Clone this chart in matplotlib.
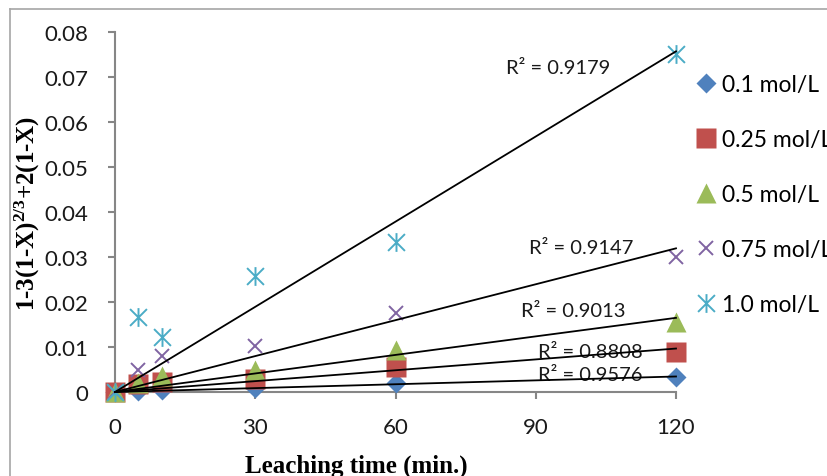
import numpy as np
import matplotlib
matplotlib.use("Agg")
import matplotlib.pyplot as plt
from matplotlib.path import Path
from matplotlib.lines import Line2D

# ---- data ----
time_min = [0, 5, 10, 30, 60, 120]
series_labels = ["0.1 mol/L", "0.25 mol/L", "0.5 mol/L", "0.75 mol/L", "1.0 mol/L"]
c_01 = [0, 0.0003, 0.0005, 0.0008, 0.0020, 0.0033]
c_025 = [0, 0.0018, 0.0022, 0.0030, 0.0055, 0.0090]
c_05 = [0, 0.0020, 0.0035, 0.0050, 0.0093, 0.0155]
c_075 = [0, 0.0050, 0.0080, 0.0102, 0.0175, 0.0300]
c_10 = [0, 0.0167, 0.0123, 0.0258, 0.0333, 0.0752]
r2_labels = ["R² = 0.9576", "R² = 0.8808", "R² = 0.9013", "R² = 0.9147", "R² = 0.9179"]
r2_pos = [(101.6, 0.0038), (101.6, 0.0091), (98.0, 0.0182), (99.7, 0.0322), (94.8, 0.0722)]
x_ticks = [0, 30, 60, 90, 120]
y_ticks = [0, 0.01, 0.02, 0.03, 0.04, 0.05, 0.06, 0.07, 0.08]

plt.rcParams["mathtext.fontset"] = "custom"
plt.rcParams["mathtext.rm"] = "Liberation Serif:bold"
plt.rcParams["mathtext.bf"] = "Liberation Serif:bold"
plt.rcParams["mathtext.default"] = "bf"

TXT = "Lato"
colors = ["#4F81BD", "#C0504D", "#9BBB59", "#8064A2", "#4BACC6"]

# excel-style asterisk: x plus vertical bar
star = Path([(0, -1), (0, 1), (-0.9, -0.9), (0.9, 0.9), (-0.9, 0.9), (0.9, -0.9)],
            [Path.MOVETO, Path.LINETO] * 3)
styles = [
    dict(marker="D", ms=9.7, mec="none"),
    dict(marker="s", ms=14, mec="none"),
    dict(marker="^", ms=14, mec="none"),
    dict(marker="x", ms=10.5, mew=1.4),
    dict(marker=star, ms=13.5, mew=1.4),
]

fig = plt.figure(figsize=(8.28, 4.77), dpi=100)
ax = fig.add_axes([115 / 828, 1 - 393 / 477, 561 / 828, 360 / 477])

x = np.array(time_min, dtype=float)
for vals, lab, col, st in zip([c_01, c_025, c_05, c_075, c_10], series_labels, colors, styles):
    y = np.array(vals)
    ax.plot(x, y, ls="none", color=col, mfc=col, label=lab, clip_on=False, zorder=3, **st)
    k = (x @ y) / (x @ x)          # linear trendline forced through origin
    ax.plot([0, 120], [0, 120 * k], color="black", lw=1.3, zorder=4, clip_on=False)

for lab, (px, py) in zip(r2_labels, r2_pos):
    ax.text(px, py, lab, fontsize=14.5, family=TXT, ha="center", va="center", color="#1a1a1a", zorder=2)

ax.set_xlim(0, 120)
ax.set_ylim(0, 0.08)
ax.set_xticks(x_ticks)
ax.set_yticks(y_ticks)
ax.set_yticklabels(["0" if v == 0 else f"{v:.2f}" for v in y_ticks])
for s in ["top", "right"]:
    ax.spines[s].set_visible(False)
for s in ["left", "bottom"]:
    ax.spines[s].set_color("#868686")
    ax.spines[s].set_linewidth(1.5)
ax.tick_params(axis="both", direction="out", length=5, width=1.5, color="#868686",
               labelsize=16, labelcolor="#1a1a1a")
ax.tick_params(axis="x", pad=13)
ax.tick_params(axis="y", pad=14)
for t in ax.get_xticklabels() + ax.get_yticklabels():
    t.set_family(TXT)

ax.set_ylabel("1-3(1-X)$^{2/3}$+2(1-X)", family="Liberation Serif", fontweight="bold", fontsize=18)
ax.yaxis.set_label_coords(-0.13, 0.5)
ax.set_xlabel("Leaching time (min.)", family="Liberation Serif", fontweight="bold", fontsize=18)
ax.xaxis.set_label_coords(0.43, -0.17)

leg = ax.legend(loc="upper left", bbox_to_anchor=(1.02, 0.908), frameon=False,
                prop={"family": TXT, "size": 16.5}, handlelength=0.8, handletextpad=0.3,
                labelspacing=1.48, borderaxespad=0)

# outer chart border (left and top visible in the reference)
fig.add_artist(Line2D([10 / 828, 10 / 828], [0, 1 - 10 / 477], color="#a6a6a6", lw=1.2))
fig.add_artist(Line2D([10 / 828, 1], [1 - 10 / 477, 1 - 10 / 477], color="#a6a6a6", lw=1.2))

fig.savefig("out.png", dpi=100)
